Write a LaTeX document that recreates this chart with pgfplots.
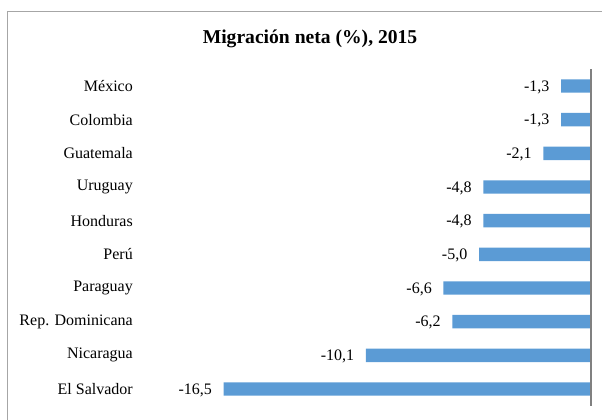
\documentclass[border=0pt]{standalone}
\usepackage{fontspec}
\setmainfont{Liberation Serif}
\usepackage{pgfplots}
\pgfplotsset{compat=1.18}
\definecolor{barblue}{HTML}{5B9BD5}
\definecolor{framegray}{HTML}{A6A6A6}
\definecolor{linegray}{HTML}{808080}
\begin{document}
\begin{tikzpicture}[x=1pt,y=1pt]
\useasboundingbox (0,0) rectangle (602,420);
\draw[framegray, line width=1.2pt] (7.8,-10) -- (7.8,408.8) -- (620,408.8);
\node[font=\fontsize{19.6}{22}\selectfont\bfseries] at (310,381.5) {Migración neta (\%), 2015};
\begin{axis}[
 name=ax,
 at={(146pt,14.2pt)}, anchor=south west,
 scale only axis, width=444pt, height=336.6pt,
 xmin=-20, xmax=0, ymin=-0.5, ymax=9.5, y dir=reverse,
 axis line style={draw=none},
 xtick=\empty,
 ytick={0,...,9},
 yticklabels={México,Colombia,Guatemala,Uruguay,Honduras,Perú,Paraguay,Rep. Dominicana,Nicaragua,El Salvador},
 major tick length=0pt,
 yticklabel style={font=\fontsize{16}{18}\selectfont, inner sep=0pt, anchor=east, xshift=-13pt},
 clip=false,
]
\addplot[xbar, bar width=13.4pt, bar shift=0pt, fill=barblue, draw=none,
 nodes near coords={\pgfmathprintnumber[use comma,fixed,fixed zerofill,precision=1,assume math mode=true]{\pgfplotspointmeta}},
 every node near coord/.append style={font=\fontsize{16}{18}\selectfont, anchor=east, inner sep=0pt, xshift=-11.5pt, yshift=-1pt}] coordinates {
 (-1.3,0) (-1.3,1) (-2.1,2) (-4.8,3) (-4.8,4) (-5.0,5) (-6.6,6) (-6.2,7) (-10.1,8) (-16.5,9)
};
\end{axis}
\draw[linegray, line width=2pt] (590.5,14.2) -- (590.5,350.8);
\end{tikzpicture}
\end{document}
